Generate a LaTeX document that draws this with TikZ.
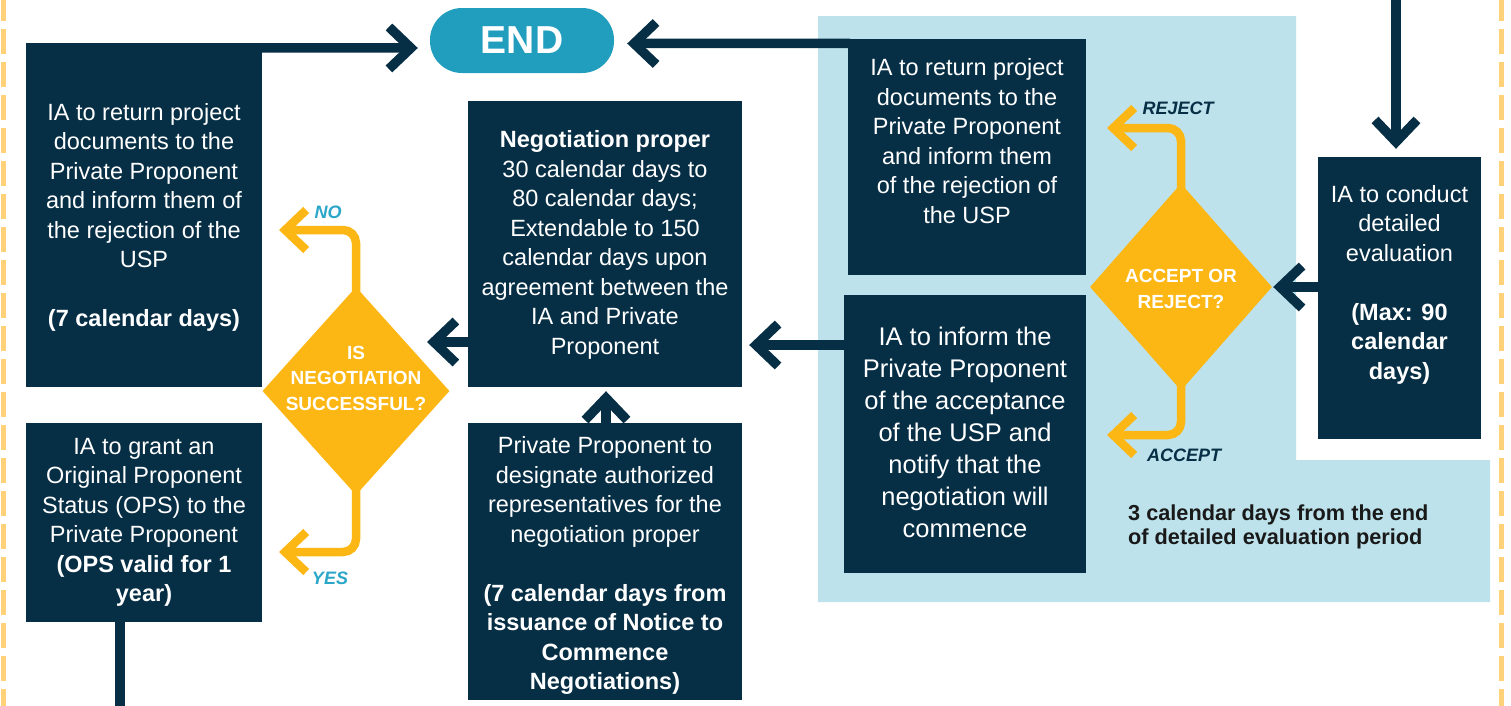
\documentclass[tikz,border=0pt]{standalone}
\usepackage{fontspec}
\setmainfont{Liberation Sans}
\usetikzlibrary{shapes.geometric,arrows.meta}
\definecolor{navy}{RGB}{6,46,69}
\definecolor{endteal}{RGB}{33,158,190}
\definecolor{yellowc}{RGB}{253,183,20}
\definecolor{labteal}{RGB}{42,166,200}
\definecolor{lightblue}{RGB}{189,226,235}
\definecolor{dashyellow}{RGB}{255,210,122}
\begin{document}
\begin{tikzpicture}[x=1pt,y=-1pt,
  box/.style={rectangle, fill=navy, inner sep=0pt},
  boxtext/.style={text=white, inner sep=0pt, align=center, font=\fontsize{23.5}{29.5}\selectfont},
  dia/.style={diamond, fill=yellowc, inner sep=0pt},
  diatext/.style={text=white, align=center, font=\bfseries\fontsize{19}{25.5}\selectfont},
  conn/.style={draw=navy, line width=9.5pt, -{Straight Barb[length=22pt,width=42pt]}},
  yconn/.style={draw=yellowc, line width=8.5pt, rounded corners=13pt, -{Straight Barb[length=21pt,width=40pt]}},
  lab/.style={font=\bfseries\itshape\fontsize{18}{20}\selectfont},
  dashline/.style={draw=dashyellow, line width=5pt, dash pattern=on 25pt off 8pt}
]
\useasboundingbox (0,0) rectangle (1511,705);
\fill[white] (0,0) rectangle (1511,705);
% light blue region
\fill[lightblue] (818,16) -- (1296,16) -- (1296,460) -- (1490,460) -- (1490,602) -- (818,602) -- cycle;
% dashed borders
\draw[dashline] (3,-4) -- (3,710);
\draw[dashline] (1501,-4) -- (1501,710);

% END
\node[rectangle, rounded corners=32pt, fill=endteal, minimum width=184pt, minimum height=65pt, inner sep=0pt,
  text=white, font=\bfseries\fontsize{39}{40}\selectfont] (END) at (522,40.5) {END};

% boxes
\node[box, minimum width=236pt, minimum height=344pt] (b1) at (144,215) {};
\node[boxtext] (b1t) at ([yshift=-2.5pt]b1.center)
  {IA to return project\\documents to the\\Private Proponent\\and inform them of\\the rejection of the\\USP\\[29.5pt]\textbf{(7 calendar days)}};
\node[box, minimum width=236pt, minimum height=199pt] (grant) at (144,522.5) {};
\node[boxtext] (grantt) at (grant.center)
  {IA to grant an\\Original Proponent\\Status (OPS) to the\\Private Proponent\\\textbf{(OPS valid for 1}\\\textbf{year)}};
\node[box, minimum width=274pt, minimum height=286pt] (neg) at (605,244) {};
\node[boxtext] (negt) at ([yshift=-1pt]neg.center)
  {\textbf{Negotiation proper}\\30 calendar days to\\80 calendar days;\\Extendable to 150\\calendar days upon\\agreement between the\\IA and Private\\Proponent};
\node[box, minimum width=274pt, minimum height=277pt] (pp) at (605,561.5) {};
\node[boxtext] (ppt) at ([yshift=-4pt]pp.center)
  {Private Proponent to\\designate authorized\\representatives for the\\negotiation proper\\[29.5pt]\textbf{(7 calendar days from}\\\textbf{issuance of Notice to}\\\textbf{Commence}\\\textbf{Negotiations)}};
\node[box, minimum width=238pt, minimum height=236pt] (rb) at (967,157) {};
\node[boxtext] (rbt) at ([yshift=16pt]rb.center)
  {IA to return project\\documents to the\\Private Proponent\\and inform them\\of the rejection of\\the USP};
\node[box, minimum width=242pt, minimum height=278pt] (inf) at (965,434) {};
\node[boxtext, font=\fontsize{25.5}{32}\selectfont] (inft) at ([yshift=1.5pt]inf.center)
  {IA to inform the\\Private Proponent\\of the acceptance\\of the USP and\\notify that the\\negotiation will\\commence};
\node[box, minimum width=163pt, minimum height=282pt] (cond) at (1399.5,298) {};
\node[boxtext] (condt) at ([yshift=13.5pt]cond.center)
  {IA to conduct\\detailed\\evaluation\\[29.5pt]\textbf{(Max: 90}\\\textbf{calendar}\\\textbf{days)}};

% diamonds
\node[dia, minimum width=187pt, minimum height=208pt] (d1) at (356,391) {};
\node[diatext] (d1t) at (356,378) {IS\\NEGOTIATION\\SUCCESSFUL?};
\node[dia, minimum width=182pt, minimum height=207pt] (d2) at (1181,287) {};
\node[diatext] (d2t) at (1181,289) {ACCEPT OR\\REJECT?};

% coordinates for free ends
\coordinate (noend) at (279,230);
\coordinate (yesend) at (279,552);
\coordinate (rejend) at (1107,128);
\coordinate (accend) at (1107,435);
\coordinate (topin) at (1396,-6);
\coordinate (botout) at (120,712);

% navy connectors
\draw[conn] ([xshift=-2pt,yshift=-5pt]b1.north east) -- ([xshift=-12pt,yshift=-7.5pt]END.west);
\draw[conn] ([xshift=2pt,yshift=-4.5pt]rb.north west) -- ([xshift=13pt,yshift=-3pt]END.east);
\draw[conn] ([yshift=-98pt]neg.west) -- ([xshift=71pt,yshift=49pt]d1.center);
\draw[conn] ([yshift=89pt]inf.west) -- ([xshift=7pt,yshift=-101pt]neg.east);
\draw[conn] ([xshift=1pt]pp.north) -- ([xshift=1pt,yshift=-4pt]neg.south);
\draw[conn] ([yshift=11pt]cond.west) -- ([xshift=1pt]d2.east);
\draw[conn] (topin) -- ([xshift=-3.5pt,yshift=8pt]cond.north);
\draw[draw=navy, line width=9.5pt] ([xshift=-24pt,yshift=1pt]grant.south) -- (botout);

% yellow connectors
\draw[yconn] ([yshift=-6pt]d1.north) |- (noend);
\draw[yconn] ([yshift=6pt]d1.south) |- (yesend);
\draw[yconn] ([yshift=-6pt]d2.north) |- (rejend);
\draw[yconn] ([yshift=6pt]d2.south) |- (accend);

% labels
\node[lab, text=labteal] (nolab) at (328,212) {NO};
\node[lab, text=labteal] (yeslab) at (330,578) {YES};
\node[lab, text=navy] (rejlab) at (1178,108) {REJECT};
\node[lab, text=navy] (acclab) at (1184,455) {ACCEPT};

% note
\node[anchor=west, align=left, text=black!90, inner sep=0pt, font=\bfseries\fontsize{21.7}{24}\selectfont] (note) at (1128,527)
  {3 calendar days from the end\\of detailed evaluation period};
\end{tikzpicture}
\end{document}
